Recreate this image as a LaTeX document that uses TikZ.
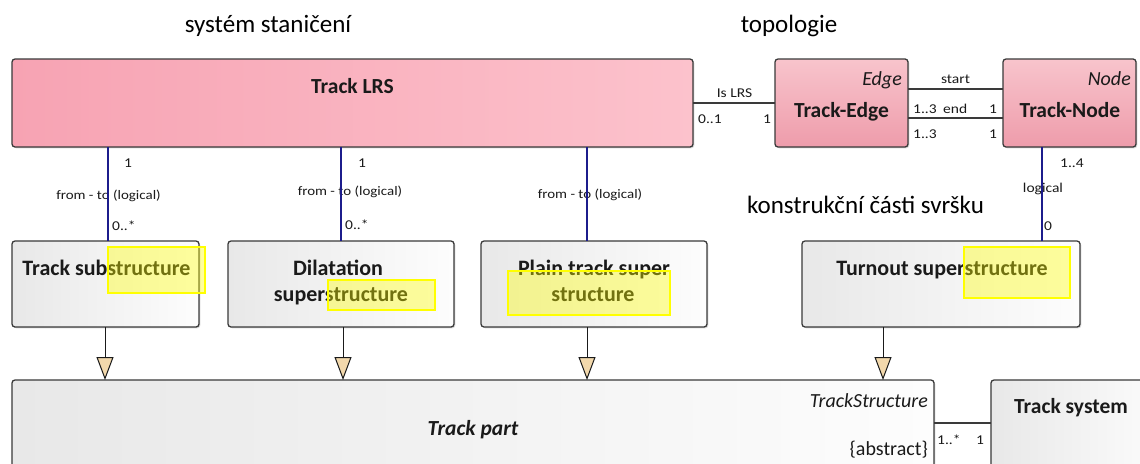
\documentclass[tikz,border=0pt]{standalone}
\usepackage{fontspec}
\setmainfont{Carlito}
\newfontfamily\lblfont[FakeStretch=1.15]{Carlito}
\usetikzlibrary{arrows.meta,shadows}

\definecolor{frame}{HTML}{3A3A3A}
\definecolor{ink}{HTML}{1A1A1A}
\definecolor{pinkA}{HTML}{F7A3B3}
\definecolor{pinkB}{HTML}{FCC2CC}
\definecolor{pinkTop}{HTML}{F8C4CC}
\definecolor{pinkBot}{HTML}{EE9CAB}
\definecolor{greyA}{HTML}{E8E8E8}
\definecolor{greyB}{HTML}{FDFDFD}
\definecolor{navyline}{HTML}{1C1C8C}
\definecolor{tipfill}{HTML}{F2D8AC}
\definecolor{marker}{HTML}{FFFF00}

\tikzset{
  umlbox/.style={draw=frame, line width=1.3pt, rounded corners=3pt,
    inner sep=0pt, outer sep=0pt,
    drop shadow={shadow xshift=1.3pt, shadow yshift=-1.3pt, opacity=0.3}},
  pinkwide/.style={umlbox, left color=pinkA, right color=pinkB},
  pinktall/.style={umlbox, top color=pinkTop, bottom color=pinkBot},
  greybox/.style={umlbox, left color=greyA, right color=greyB},
  boxtitle/.style={font=\fontsize{21.5}{24}\selectfont\bfseries, text=ink, inner sep=0pt},
  subtitle/.style={font=\fontsize{22}{24}\selectfont\bfseries, text=ink, inner sep=0pt},
  stereo/.style={font=\fontsize{20}{22}\selectfont\itshape, text=ink, inner sep=0pt},
  heading/.style={font=\fontsize{25}{28}\selectfont, text=black, inner sep=0pt},
  lbl/.style={font=\lblfont\fontsize{13.5}{15}\selectfont, text=ink, inner sep=0pt},
  assoc/.style={draw=frame, line width=1.3pt},
  navy/.style={draw=navyline, line width=2.4pt},
  gen/.style={draw=ink, line width=1pt,
    -{Triangle[length=23pt, width=17pt, fill=tipfill]}},
  hl/.style={draw=marker, line width=1.4pt, fill=marker, fill opacity=0.38}
}

\begin{document}
\begin{tikzpicture}[x=1pt, y=-1pt]
\useasboundingbox (0,0) rectangle (1140,463);
\clip (0,0) rectangle (1140,463);
\fill[white] (0,0) rectangle (1140,463);

% section headings
\node[heading, anchor=base] (h1) at (268,32) {systém staničení};
\node[heading, anchor=base] (h2) at (789,32) {topologie};
\node[heading, anchor=base] (h3) at (865.5,213) {konstrukční části svršku};

% classes of the upper row
\node[pinkwide, minimum width=681pt, minimum height=88pt] (lrs) at (352.5,103) {};
\node[pinktall, minimum width=133pt, minimum height=88pt] (tedge) at (841.5,103) {};
\node[pinktall, minimum width=133pt, minimum height=88pt] (tnode) at (1069.5,103) {};

\node[boxtitle, anchor=base] (lrsT) at (352.5,93) {Track LRS};
\node[stereo, anchor=base east] (edgeS) at (902,85) {Edge};
\node[boxtitle, anchor=base] (edgeT) at (841.5,117) {Track-Edge};
\node[stereo, anchor=base east] (nodeS) at (1131,85) {Node};
\node[boxtitle, anchor=base] (nodeT) at (1070,117) {Track-Node};

% classes of the middle row
\node[greybox, minimum width=187pt, minimum height=86pt] (tsub) at (105.5,284) {};
\node[greybox, minimum width=226pt, minimum height=86pt] (dil) at (341,284) {};
\node[greybox, minimum width=226pt, minimum height=86pt] (plain) at (594,284) {};
\node[greybox, minimum width=278pt, minimum height=86pt] (turn) at (941,284) {};

\node[subtitle, anchor=base] (tsubT) at (106.5,275) {Track substructure};
\node[subtitle, anchor=base] (dilT1) at (338,275) {Dilatation};
\node[subtitle, anchor=base] (dilT2) at (341,301) {superstructure};
\node[subtitle, anchor=base] (plainT1) at (594,275) {Plain track super};
\node[subtitle, anchor=base] (plainT2) at (593,301) {structure};
\node[subtitle, anchor=base] (turnT) at (942,275) {Turnout superstructure};

% classes of the lower row
\node[greybox, minimum width=922pt, minimum height=140pt] (tpart) at (473,450) {};
\node[greybox, minimum width=179pt, minimum height=140pt] (tsys) at (1080.5,450) {};

\node[font=\fontsize{21.5}{24}\selectfont\bfseries\itshape, text=ink, inner sep=0pt, anchor=base] (tpartT) at (473,435) {Track part};
\node[stereo, anchor=base east] (tpartS) at (928,407) {TrackStructure};
\node[font=\fontsize{20}{22}\selectfont, text=ink, inner sep=0pt, anchor=base east] (tpartA) at (928,455) {\{abstract\}};
\node[boxtitle, anchor=base] (tsysT) at (1071,413) {Track system};

% associations between the topology classes
\draw[assoc] (lrs.east) -- (tedge.west);
\draw[assoc] ([yshift=14pt]tedge.east) -- ([yshift=14pt]tnode.west);
\draw[assoc] ([yshift=-15pt]tedge.east) -- ([yshift=-15pt]tnode.west);
\draw[assoc] ([yshift=27pt]tpart.east) -- ([yshift=27pt]tsys.west);

\node[lbl, anchor=base] (isl) at (734.5,97) {Is LRS};
\node[lbl, anchor=base west] (isl0) at (698,123) {0..1};
\node[lbl, anchor=base] (isl1) at (767,123) {1};
\node[lbl, anchor=base] (st) at (955.5,83) {start};
\node[lbl, anchor=base west] (en13) at (913,113) {1..3};
\node[lbl, anchor=base west] (en) at (943,113) {end};
\node[lbl, anchor=base] (en1) at (993,113) {1};
\node[lbl, anchor=base west] (en13b) at (913,138) {1..3};
\node[lbl, anchor=base] (en1b) at (993,138) {1};
\node[lbl, anchor=base west] (sysm) at (937,444) {1..*};
\node[lbl, anchor=base] (sys1) at (980,444) {1};

% labels of the logical links
\node[lbl, anchor=base] (a1) at (128,167) {1};
\node[lbl, font=\lblfont\fontsize{13}{15}\selectfont, anchor=base] (f1) at (108.5,199) {from - to (logical)};
\node[lbl, anchor=base west] (m1) at (112,230) {0..*};
\node[lbl, anchor=base] (a2) at (362,167) {1};
\node[lbl, font=\lblfont\fontsize{13}{15}\selectfont, anchor=base] (f2) at (350,195) {from - to (logical)};
\node[lbl, anchor=base west] (m2) at (345,229) {0..*};
\node[lbl, font=\lblfont\fontsize{13}{15}\selectfont, anchor=base] (f3) at (590,198) {from - to (logical)};
\node[lbl, anchor=base west] (a4) at (1060,167) {1..4};
\node[lbl, anchor=base] (f4) at (1043,192) {logical};
\node[lbl, anchor=base] (m4) at (1048,230) {0};

% logical links
\coordinate (b1) at (108,0);
\coordinate (b2) at (341,0);
\coordinate (b3) at (587,0);
\coordinate (b4) at (1042,0);
\draw[navy] (lrs.south -| b1) -- (tsub.north -| b1);
\draw[navy] (lrs.south -| b2) -- (dil.north -| b2);
\draw[navy] (lrs.south -| b3) -- (plain.north -| b3);
\draw[navy] (tnode.south -| b4) -- (turn.north -| b4);

% generalisations
\coordinate (g1) at (105,0);
\coordinate (g2) at (343,0);
\coordinate (g3) at (587,0);
\coordinate (g4) at (883,0);
\draw[gen] (tsub.south -| g1) -- (tpart.north -| g1);
\draw[gen] (dil.south -| g2) -- (tpart.north -| g2);
\draw[gen] (plain.south -| g3) -- (tpart.north -| g3);
\draw[gen] (turn.south -| g4) -- (tpart.north -| g4);

% marker highlights
\draw[hl] (108,247) rectangle (205,293);
\draw[hl] (328,280) rectangle (435,310);
\draw[hl] (508,271) rectangle (670,315);
\draw[hl] (964,247) rectangle (1070,298);
\end{tikzpicture}
\end{document}
